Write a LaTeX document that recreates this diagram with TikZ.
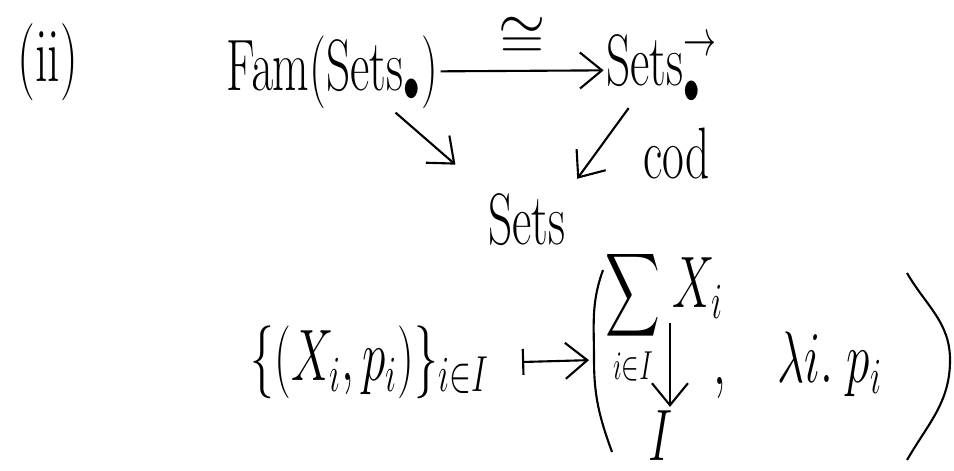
\documentclass[tikz,border=0pt]{standalone}
\usepackage{amsmath}
\usetikzlibrary{positioning, arrows.meta}

\begin{document}
\begin{tikzpicture}[
  every node/.style={font=\fontsize{22}{26}\selectfont, inner sep=1pt},
  hand/.style={xscale=0.65},
  arr/.style={-{Straight Barb[length=2.2mm, width=3.6mm]}, line width=0.6pt},
  maps/.style={{Bar[width=2.6mm]}-{Straight Barb[length=2.2mm, width=3.6mm]}, line width=0.6pt},
  paren/.style={line width=0.6pt},
]
  \useasboundingbox (0,0) rectangle (9.54,4.7);

  % top square
  \node[hand] (tag)    at (0.48,4.08) {(ii)};
  \node[hand] (fam)    at (3.32,3.98) {$\mathrm{Fam}(\mathrm{Sets}_{\bullet})$};
  \node[hand] (setsto) at (6.62,4.00) {$\mathrm{Sets}^{\to}_{\bullet}$};
  \node[hand] (sets)   at (5.27,2.50) {$\mathrm{Sets}$};

  \draw[arr] (fam) -- node[above=1mm, inner sep=0pt, font=\fontsize{19}{21}\selectfont] (iso) {$\cong$} (setsto);
  \draw[arr, shorten >=4mm] ([xshift=-4.5mm]fam.south east) -- (sets.north west);
  \draw[arr, shorten >=1.5mm] ([xshift=2.5mm]setsto.south west) -- (sets.north east)
    node[pos=0.55, right=4.5mm, hand] (cod) {$\mathrm{cod}$};

  % the functor on objects
  \node[hand] (fams)  at (3.70,1.08) {$\{(X_i,p_i)\}_{i\in I}$};
  \node[hand, scale=0.8] (sigma) at (6.33,1.52) {$\displaystyle\sum_{i\in I}$};
  \node[hand] (xi)    at (6.98,1.82) {$X_i$};
  \node[hand] (idx)   at (6.61,0.34) {$I$};
  \node[hand] (comma) at (7.20,0.82) {$,$};
  \node[hand] (lam)   at (8.30,1.06) {$\lambda i.\;p_i$};

  \coordinate (lpt) at (6.03,2.00);
  \coordinate (lpm) at (5.94,1.10);
  \coordinate (lpb) at (6.12,0.18);
  \coordinate (rpt) at (9.07,1.97);
  \coordinate (rpm) at (9.50,1.10);
  \coordinate (rpb) at (9.07,0.10);

  \draw[paren] (lpt) to[out=250, in=90] (lpm) to[out=-90, in=110] (lpb);
  \draw[paren] (rpt) to[out=-60, in=90] (rpm) to[out=-90, in=60] (rpb);

  \draw[maps, shorten >=0.5mm] ([xshift=3mm]fams.east) -- (lpm);
  \draw[arr] (xi.south west) -- (xi.south west |- idx.north);
\end{tikzpicture}
\end{document}
